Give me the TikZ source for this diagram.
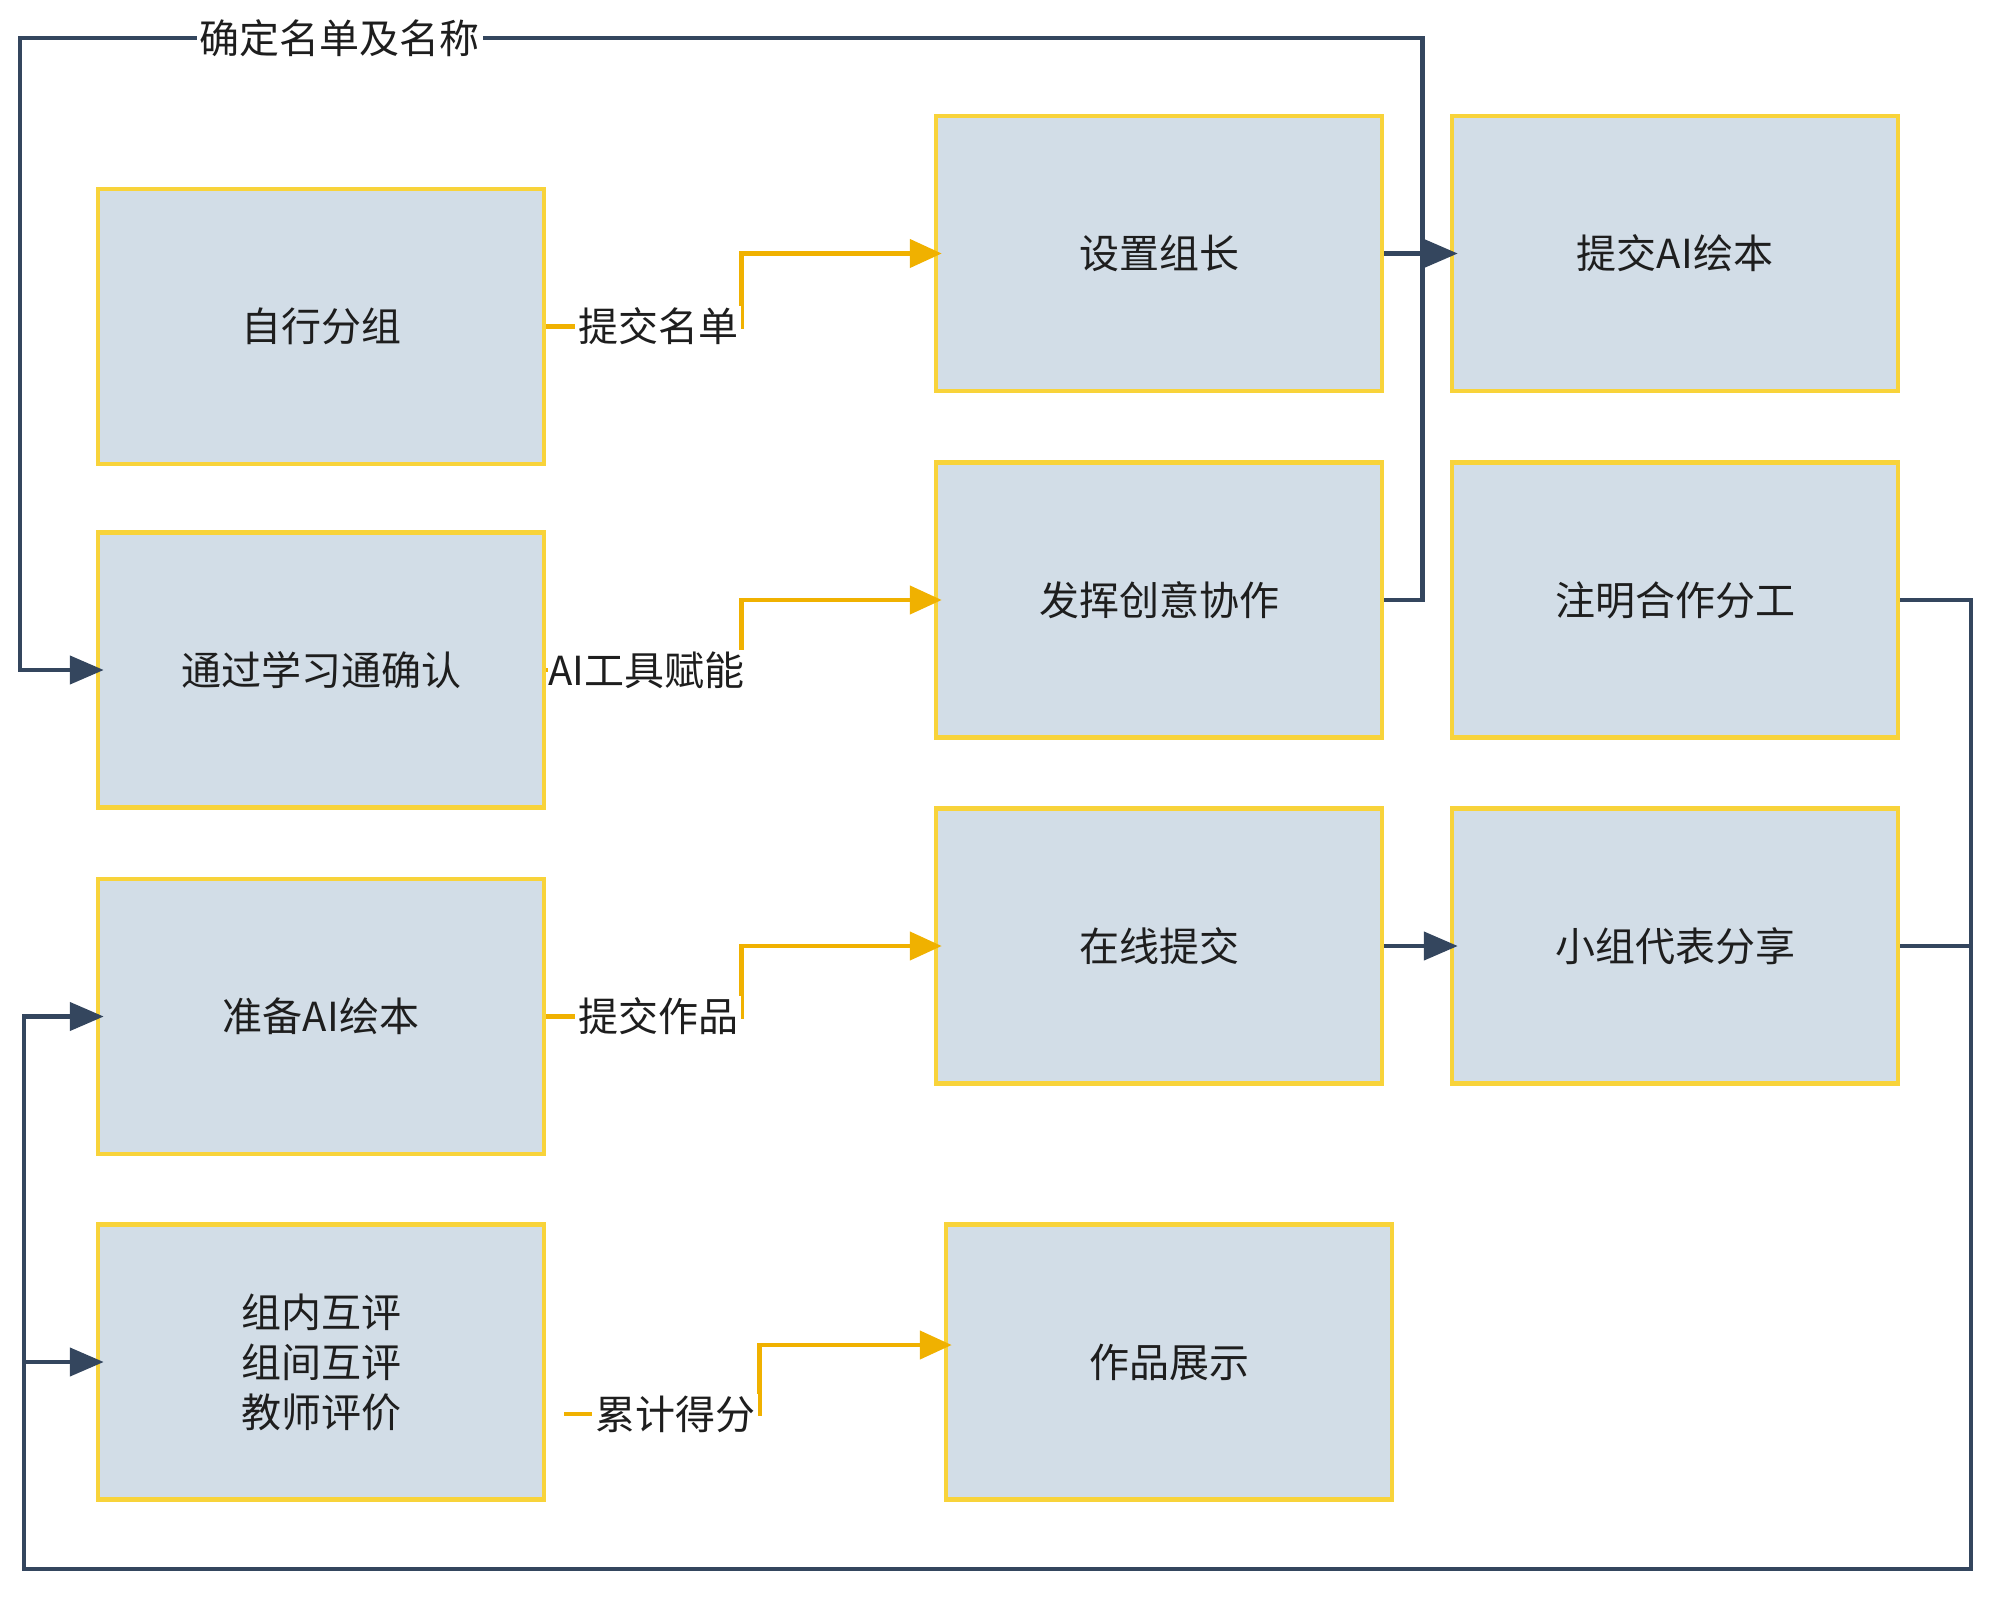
\documentclass[tikz,border=0pt]{standalone}
\usepackage{fontspec}
\setmainfont{Noto Sans CJK SC}
\usetikzlibrary{arrows.meta}
\definecolor{boxfill}{HTML}{D2DDE7}
\definecolor{boxline}{HTML}{F8D33A}
\definecolor{orline}{HTML}{F0B100}
\definecolor{dkline}{HTML}{34465E}
\definecolor{txt}{HTML}{1E1E1E}
\tikzset{
  box/.style={rectangle, draw=boxline, fill=boxfill, line width=4.5pt,
    minimum width=446pt, minimum height=275pt, inner sep=0pt,
    text=txt, align=center, font=\fontsize{40pt}{50pt}\selectfont},
  lbl/.style={fill=white, inner xsep=3pt, inner ysep=2pt, text=txt,
    font=\fontsize{40pt}{50pt}\selectfont},
  orarrow/.style={draw=orline, line width=4.5pt,
    -{Triangle[length=32pt,width=28pt]}, shorten >=-8pt},
  orplain/.style={draw=orline, line width=4.5pt},
  dkarrow/.style={draw=dkline, line width=4.5pt,
    -{Triangle[length=34pt,width=28pt]}, shorten >=-8pt},
  dkplain/.style={draw=dkline, line width=4.5pt},
}
\begin{document}
\begin{tikzpicture}[x=1pt,y=-1pt]
\useasboundingbox (0,0) rectangle (2000,1606);
% boxes
\node[box] (zx) at (321,326.5) {自行分组};
\node[box] (tg) at (321,670) {通过学习通确认};
\node[box] (pj) at (321,1016.5) {准备AI绘本};
\node[box] (hp) at (321,1362) {组内互评\\组间互评\\教师评价};
\node[box] (sz) at (1159,253.5) {设置组长};
\node[box] (fh) at (1159,600) {发挥创意协作};
\node[box] (zx2) at (1159,946) {在线提交};
\node[box] (zs) at (1169,1362) {作品展示};
\node[box] (tj) at (1675,253.5) {提交AI绘本};
\node[box] (zm) at (1675,600) {注明合作分工};
\node[box] (xz) at (1675,946) {小组代表分享};
% corner coordinates
\coordinate (tl) at (20,38);
\coordinate (br) at (1971,1569);
\coordinate (bl) at (24,1569);
\coordinate (o4s) at ([xshift=18pt,yshift=-52pt]hp.east);
% orange connectors
\draw[orarrow] (zx.east) -- node[lbl,pos=0.574]{提交名单} ++(195,0) |- (sz.west);
\draw[orarrow] (tg.east) -- node[lbl,inner xsep=0pt,pos=0.512]{AI工具赋能} ++(195,0) |- (fh.west);
\draw[orarrow] (pj.east) -- node[lbl,pos=0.574]{提交作品} ++(195,0) |- (zx2.west);
\draw[orarrow] (o4s) -- node[lbl,pos=0.57]{累计得分} ++(195,0) |- ([yshift=17pt]zs.west);
% dark connectors
\draw[dkarrow] (sz.east) -- (tj.west);
\draw[dkarrow] (zx2.east) -- (xz.west);
\draw[dkarrow] (fh.east) -- ++(38,0) -- ++(0,-562) -- node[lbl,pos=0.772]{确定名单及名称} (tl) |- (tg.west);
\draw[dkarrow] (zm.east) -| (br) -- (bl) |- (hp.west);
\draw[dkarrow] (bl) |- (pj.west);
\draw[dkplain] (xz.east) -- (xz.east -| br);
\end{tikzpicture}
\end{document}
